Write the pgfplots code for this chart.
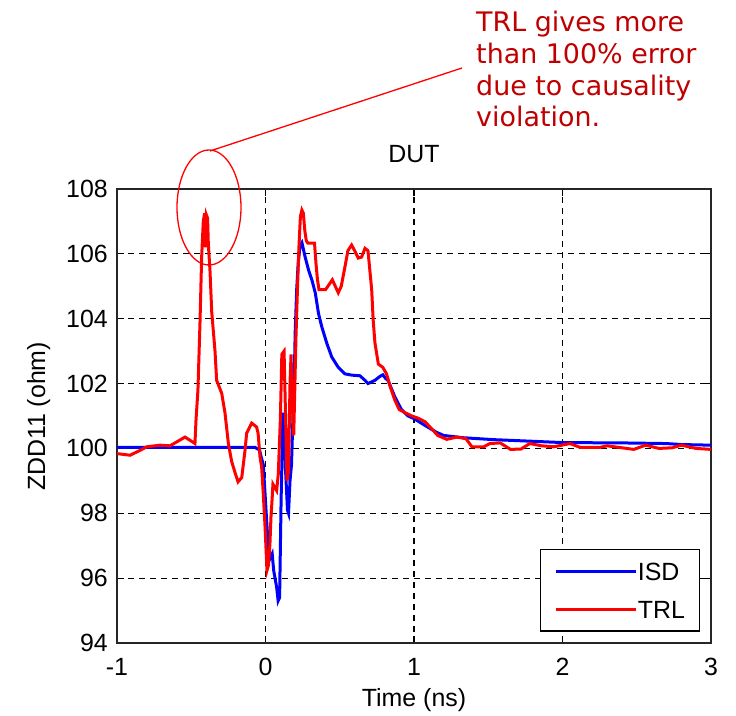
\documentclass[border=0pt]{standalone}
\usepackage{fontspec}
\setmainfont{Liberation Sans}
\newfontfamily\notefont{DejaVu Sans}
\usepackage{pgfplots}
\pgfplotsset{compat=1.18}
\definecolor{notered}{RGB}{192,0,0}

\begin{document}
\begin{tikzpicture}[x=1bp,y=1bp]
\path[use as bounding box] (0,0) rectangle (736,716);
\begin{axis}[
  at={(117bp,73bp)}, anchor=south west,
  scale only axis, width=594bp, height=454bp,
  xmin=-1, xmax=3, ymin=94, ymax=108,
  xtick={-1,0,1,2,3}, ytick={94,96,...,108},
  xtick pos=both, ytick pos=both,
  xticklabel pos=lower, yticklabel pos=left,
  tick align=inside, major tick length=7bp,
  every tick/.style={black, line width=1.2bp},
  axis line style={black!85, line width=1.6bp},
  grid=major,
  major grid style={black, line width=1.2bp, dash pattern=on 6bp off 5bp},
  /pgf/number format/assume math mode=true,
  ticklabel style={font=\fontsize{25}{29}\selectfont},
  xticklabel style={anchor=base, yshift=-32.7bp},
  yticklabel style={inner sep=0pt, xshift=-9bp},
  label style={font=\fontsize{25}{29}\selectfont},
  title style={font=\fontsize{25}{29}\selectfont, anchor=base,
    at={(axis description cs:0.5,1.0456)}},
  xlabel style={anchor=base, at={(axis description cs:0.5,-0.1403)}},
  ylabel style={anchor=base, at={(axis description cs:-0.1212,0.499)}},
  title={DUT},
  xlabel={Time (ns)},
  ylabel={ZDD11 (ohm)},
  legend style={at={(0.9815,0.0249)}, anchor=south east, draw=black,
    line width=1.2bp, fill=white, font=\fontsize{25}{29}\selectfont,
    inner xsep=14.5bp, inner ysep=12.5bp, row sep=20.2bp,
    nodes={inner sep=0pt, text height=18bp, text depth=0pt},
    /tikz/every even column/.append style={column sep=9bp}},
  legend cell align=left,
  legend image code/.code={\draw[#1, line width=3bp] (0bp,0bp) -- (80bp,0bp);},
]
% ISD result
\addplot[blue, line width=3bp] coordinates {
(-1.0,100.03) (-0.5,100.03) (-0.07,100.03) (-0.04,99.95) (-0.03,99.75)
(-0.015,99.5) (-0.003,98.6) (0.01,97.6) (0.02,96.85) (0.03,96.6)
(0.045,96.75) (0.055,96.24) (0.075,95.72) (0.085,95.3) (0.095,95.4)
(0.10,96.9) (0.105,98.4) (0.11,99.43) (0.115,101.1) (0.125,100.8)
(0.135,99.33) (0.148,98.1) (0.155,98.0) (0.165,99.0) (0.175,99.5)
(0.185,101.0) (0.19,101.3) (0.20,103.6) (0.21,104.9) (0.22,105.7)
(0.233,106.27) (0.245,106.35) (0.267,105.9) (0.29,105.5) (0.312,105.2)
(0.335,104.8) (0.357,104.16) (0.379,103.75) (0.413,103.24) (0.446,102.82)
(0.49,102.5) (0.535,102.3) (0.58,102.26) (0.636,102.24) (0.67,102.1)
(0.69,102.0) (0.737,102.1) (0.77,102.22) (0.79,102.27) (0.81,102.15)
(0.825,102.1) (0.87,101.6) (0.915,101.2) (0.96,101.0) (1.0,100.92)
(1.07,100.72) (1.15,100.5) (1.2,100.4) (1.33,100.33) (1.54,100.27)
(1.8,100.22) (1.9,100.2) (2.0,100.18) (2.4,100.17) (2.7,100.15)
(2.8,100.12) (3.0,100.1)
};
\addlegendentry{ISD}
% TRL result
\addplot[red, line width=3bp] coordinates {
(-1.0,99.84) (-0.912,99.79) (-0.845,99.94) (-0.8,100.05) (-0.71,100.1)
(-0.643,100.08) (-0.598,100.2) (-0.542,100.35) (-0.508,100.25) (-0.475,100.15)
(-0.468,100.87) (-0.455,101.8) (-0.441,103.9) (-0.43,105.9) (-0.419,107.0)
(-0.41,107.25) (-0.404,106.2) (-0.398,107.2) (-0.39,107.1) (-0.385,106.3)
(-0.374,105.5) (-0.362,104.2) (-0.34,103.0) (-0.329,102.1) (-0.295,101.7)
(-0.273,101.1) (-0.25,100.15) (-0.228,99.6) (-0.205,99.25) (-0.185,98.97)
(-0.16,99.1) (-0.138,99.94) (-0.127,100.47) (-0.093,100.78) (-0.06,100.66)
(-0.05,100.47) (-0.037,99.74) (-0.026,99.43) (-0.015,98.6) (-0.003,97.58)
(0.003,96.96) (0.01,96.24) (0.02,96.4) (0.03,97.07) (0.037,97.9)
(0.044,98.4) (0.05,98.9) (0.075,98.7) (0.086,99.2) (0.10,100.9)
(0.11,102.9) (0.125,103.0) (0.135,101.0) (0.145,99.0) (0.155,99.3)
(0.165,102.0) (0.172,102.9) (0.18,101.4) (0.19,100.4) (0.195,101.4)
(0.205,103.4) (0.215,104.9) (0.225,106.2) (0.235,107.15) (0.245,107.35)
(0.255,107.25) (0.265,106.7) (0.275,106.4) (0.285,106.33) (0.33,106.33)
(0.34,105.7) (0.35,105.2) (0.36,104.9) (0.405,104.9) (0.45,105.2)
(0.49,104.8) (0.51,105.0) (0.535,105.6) (0.555,106.1) (0.58,106.27)
(0.60,106.1) (0.625,105.87) (0.647,105.9) (0.67,106.17) (0.69,106.1)
(0.715,104.9) (0.725,103.96) (0.737,103.25) (0.76,102.6) (0.79,102.5)
(0.815,102.3) (0.84,101.9) (0.87,101.5) (0.90,101.2) (0.94,101.1)
(0.985,101.0) (1.03,100.93) (1.075,100.82) (1.12,100.6) (1.16,100.4)
(1.22,100.28) (1.29,100.35) (1.35,100.3) (1.39,100.05) (1.47,100.05)
(1.51,100.15) (1.58,100.17) (1.65,99.97) (1.72,99.98) (1.78,100.15)
(1.86,100.08) (1.94,100.05) (2.05,100.15) (2.12,100.03) (2.25,100.03)
(2.30,100.08) (2.4,100.02) (2.48,99.97) (2.56,100.1) (2.65,100.0)
(2.74,100.02) (2.8,100.1) (2.9,100.0) (3.0,99.97)
};
\addlegendentry{TRL}
\end{axis}
% callout around the early TRL peak
\draw[red, line width=1.3bp] (209,508.5) ellipse [x radius=32, y radius=57.5];
\draw[red, line width=1.3bp] (210,565) -- (462,648);
\begin{scope}[every node/.style={anchor=base west, inner sep=0pt, text=notered,
    font=\notefont\fontsize{27}{32}\selectfont}]
\node at (476,684) {TRL gives more};
\node at (476,652) {than 100\% error};
\node at (476,620) {due to causality};
\node at (476,589) {violation.};
\end{scope}
\end{tikzpicture}
\end{document}
